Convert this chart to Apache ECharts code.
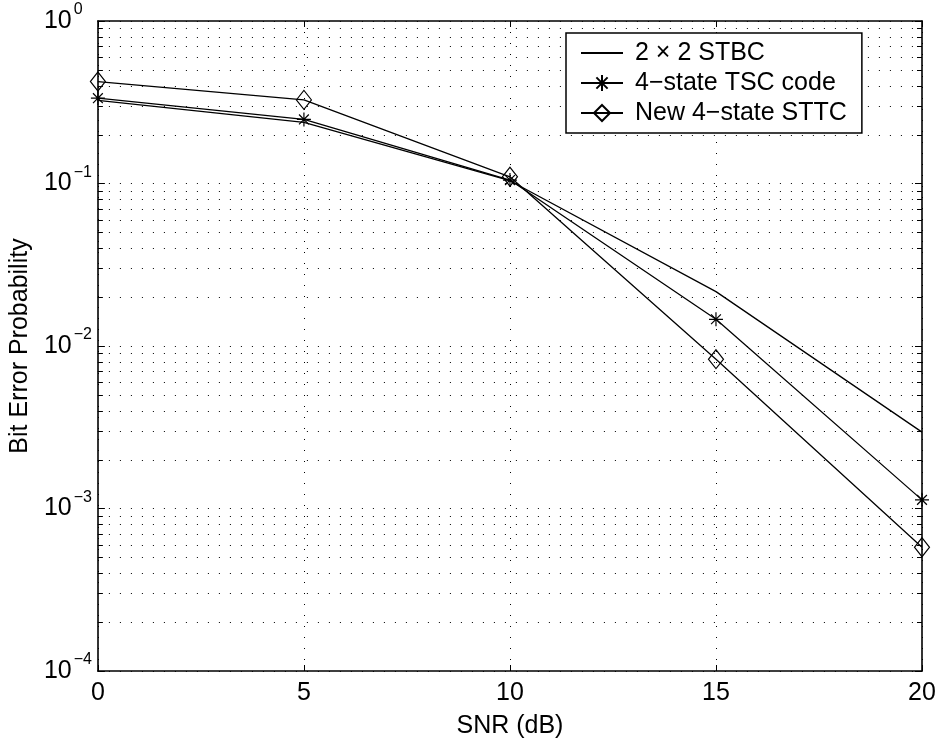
<!DOCTYPE html>
<html>
<head>
<meta charset="utf-8">
<script src="https://cdn.jsdelivr.net/npm/echarts@6/dist/echarts.min.js"></script>
<style>
  html, body { margin: 0; padding: 0; background: #fff; }
  #chart { width: 941px; height: 744px; }
</style>
</head>
<body>
<div id="chart"></div>
<script>
// SNR points (dB)
const snr = [0, 5, 10, 15, 20];
// Bit error probability per scheme
const stbc = [0.325, 0.238, 0.104, 0.0216, 0.00295];
const tsc  = [0.335, 0.248, 0.105, 0.0146, 0.00113];
const sttc = [0.424, 0.327, 0.110, 0.0083, 0.000577];
const seriesNames = ['2 \u00d7 2 STBC', '4\u2212state TSC code', 'New 4\u2212state STTC'];
// Axis ranges and tick values
const xTicks = [0, 5, 10, 15, 20];
const yDecades = [1e-4, 1e-3, 1e-2, 1e-1, 1];
const yMinorMantissas = [2, 3, 4, 5, 6, 7, 8, 9];

const FONT = 'Liberation Sans, Arial, Helvetica, sans-serif';
const minorValues = [];
for (let i = 0; i < yDecades.length - 1; i++) {
  for (const m of yMinorMantissas) minorValues.push([0, m * yDecades[i]]);
}

function pairs(ys) { return snr.map((x, i) => [x, ys[i]]); }

function decadeLabel(v) {
  const e = Math.round(Math.log10(v));
  const s = e < 0 ? '\u2212' + (-e) : String(e);
  return '{b|10}{s|' + s + '}';
}

const asterisk = 'path://M10,0L10,20M0,10L20,10M3,3L17,17M3,17L17,3';
const lineBase = { color: '#000', width: 1.3 };
const dotted = { color: '#000', width: 1, type: [1, 10] };

const chart = echarts.init(document.getElementById('chart'), null, { renderer: 'canvas' });
chart.setOption({
  animation: false,
  backgroundColor: '#fff',
  textStyle: { fontFamily: FONT },
  grid: { left: 97, right: 19, top: 21, bottom: 72 },
  legend: {
    orient: 'vertical',
    left: 566, top: 33,
    padding: [7, 15, 7, 14],
    itemWidth: 42, itemHeight: 20, itemGap: 4,
    borderColor: '#000', borderWidth: 1.5, borderRadius: 0,
    backgroundColor: '#fff',
    textStyle: { fontFamily: FONT, fontSize: 25, color: '#000', lineHeight: 26, padding: [0, 0, 0, 7] },
    data: seriesNames
  },
  xAxis: [{
    type: 'value', min: 0, max: 20, interval: 5,
    name: 'SNR (dB)', nameLocation: 'middle', nameGap: 43,
    nameTextStyle: { fontFamily: FONT, fontSize: 25, color: '#000' },
    axisLine: { show: true, onZero: false, lineStyle: { color: '#000', width: 1.6 } },
    axisTick: { inside: true, length: 6, lineStyle: { color: '#000', width: 1 } },
    axisLabel: { fontFamily: FONT, fontSize: 25, color: '#000', margin: 10,
      formatter: v => xTicks.includes(v) ? String(v) : '' },
    splitLine: { show: true, lineStyle: dotted }
  }, {
    type: 'value', min: 0, max: 20, interval: 5, position: 'top',
    axisLine: { show: true, onZero: false, lineStyle: { color: '#000', width: 1.6 } },
    axisTick: { inside: true, length: 6, lineStyle: { color: '#000', width: 1 } },
    axisLabel: { show: false }, splitLine: { show: false }
  }],
  yAxis: [{
    type: 'log', logBase: 10, min: 1e-4, max: 1,
    name: 'Bit Error Probability', nameLocation: 'middle', nameGap: 62,
    nameTextStyle: { fontFamily: FONT, fontSize: 25, color: '#000' },
    axisLine: { show: true, onZero: false, lineStyle: { color: '#000', width: 1.6 } },
    axisTick: { inside: true, length: 7, lineStyle: { color: '#000', width: 1 } },
    axisLabel: {
      align: 'left', margin: 54, color: '#000', formatter: decadeLabel,
      rich: {
        b: { fontFamily: FONT, fontSize: 25, color: '#000' },
        s: { fontFamily: FONT, fontSize: 16, color: '#000', padding: [0, 0, 22, 2] }
      }
    },
    splitLine: { show: true, lineStyle: dotted }
  }, {
    type: 'log', logBase: 10, min: 1e-4, max: 1, position: 'right',
    axisLine: { show: true, onZero: false, lineStyle: { color: '#000', width: 1.6 } },
    axisTick: { inside: true, length: 7, lineStyle: { color: '#000', width: 1 } },
    axisLabel: { show: false }, splitLine: { show: false }
  }],
  series: [{
    // minor gridlines and minor ticks at 2..9 x 10^k
    type: 'custom', z: 1, silent: true,
    xAxisIndex: 0, yAxisIndex: 0,
    data: minorValues,
    renderItem: function (params, api) {
      const cs = params.coordSys;
      const y = Math.round(api.coord([0, api.value(1)])[1]) + 0.5;
      const x0 = cs.x, x1 = cs.x + cs.width;
      return {
        type: 'group',
        children: [
          { type: 'line', shape: { x1: x0, y1: y, x2: x1, y2: y }, style: { stroke: '#000', lineWidth: 1, lineDash: [1, 10] } },
          { type: 'line', shape: { x1: x0, y1: y, x2: x0 + 5, y2: y }, style: { stroke: '#000', lineWidth: 1 } },
          { type: 'line', shape: { x1: x1 - 5, y1: y, x2: x1, y2: y }, style: { stroke: '#000', lineWidth: 1 } }
        ]
      };
    }
  }, {
    // plain line, no marker (marker kept invisible so the key shows only the line)
    name: seriesNames[0], type: 'line', data: pairs(stbc),
    symbol: 'circle', symbolSize: 0, showSymbol: false, lineStyle: lineBase,
    itemStyle: { color: 'transparent', borderWidth: 0 }, z: 3
  }, {
    name: seriesNames[1], type: 'line', data: pairs(tsc),
    symbol: asterisk, symbolSize: 14, lineStyle: lineBase,
    itemStyle: { color: 'transparent', borderColor: '#000', borderWidth: 1.2 }, z: 3
  }, {
    name: seriesNames[2], type: 'line', data: pairs(sttc),
    symbol: 'diamond', symbolSize: [15, 19], lineStyle: lineBase,
    itemStyle: { color: 'transparent', borderColor: '#000', borderWidth: 1.2 }, z: 3
  }]
});
</script>
</body>
</html>
